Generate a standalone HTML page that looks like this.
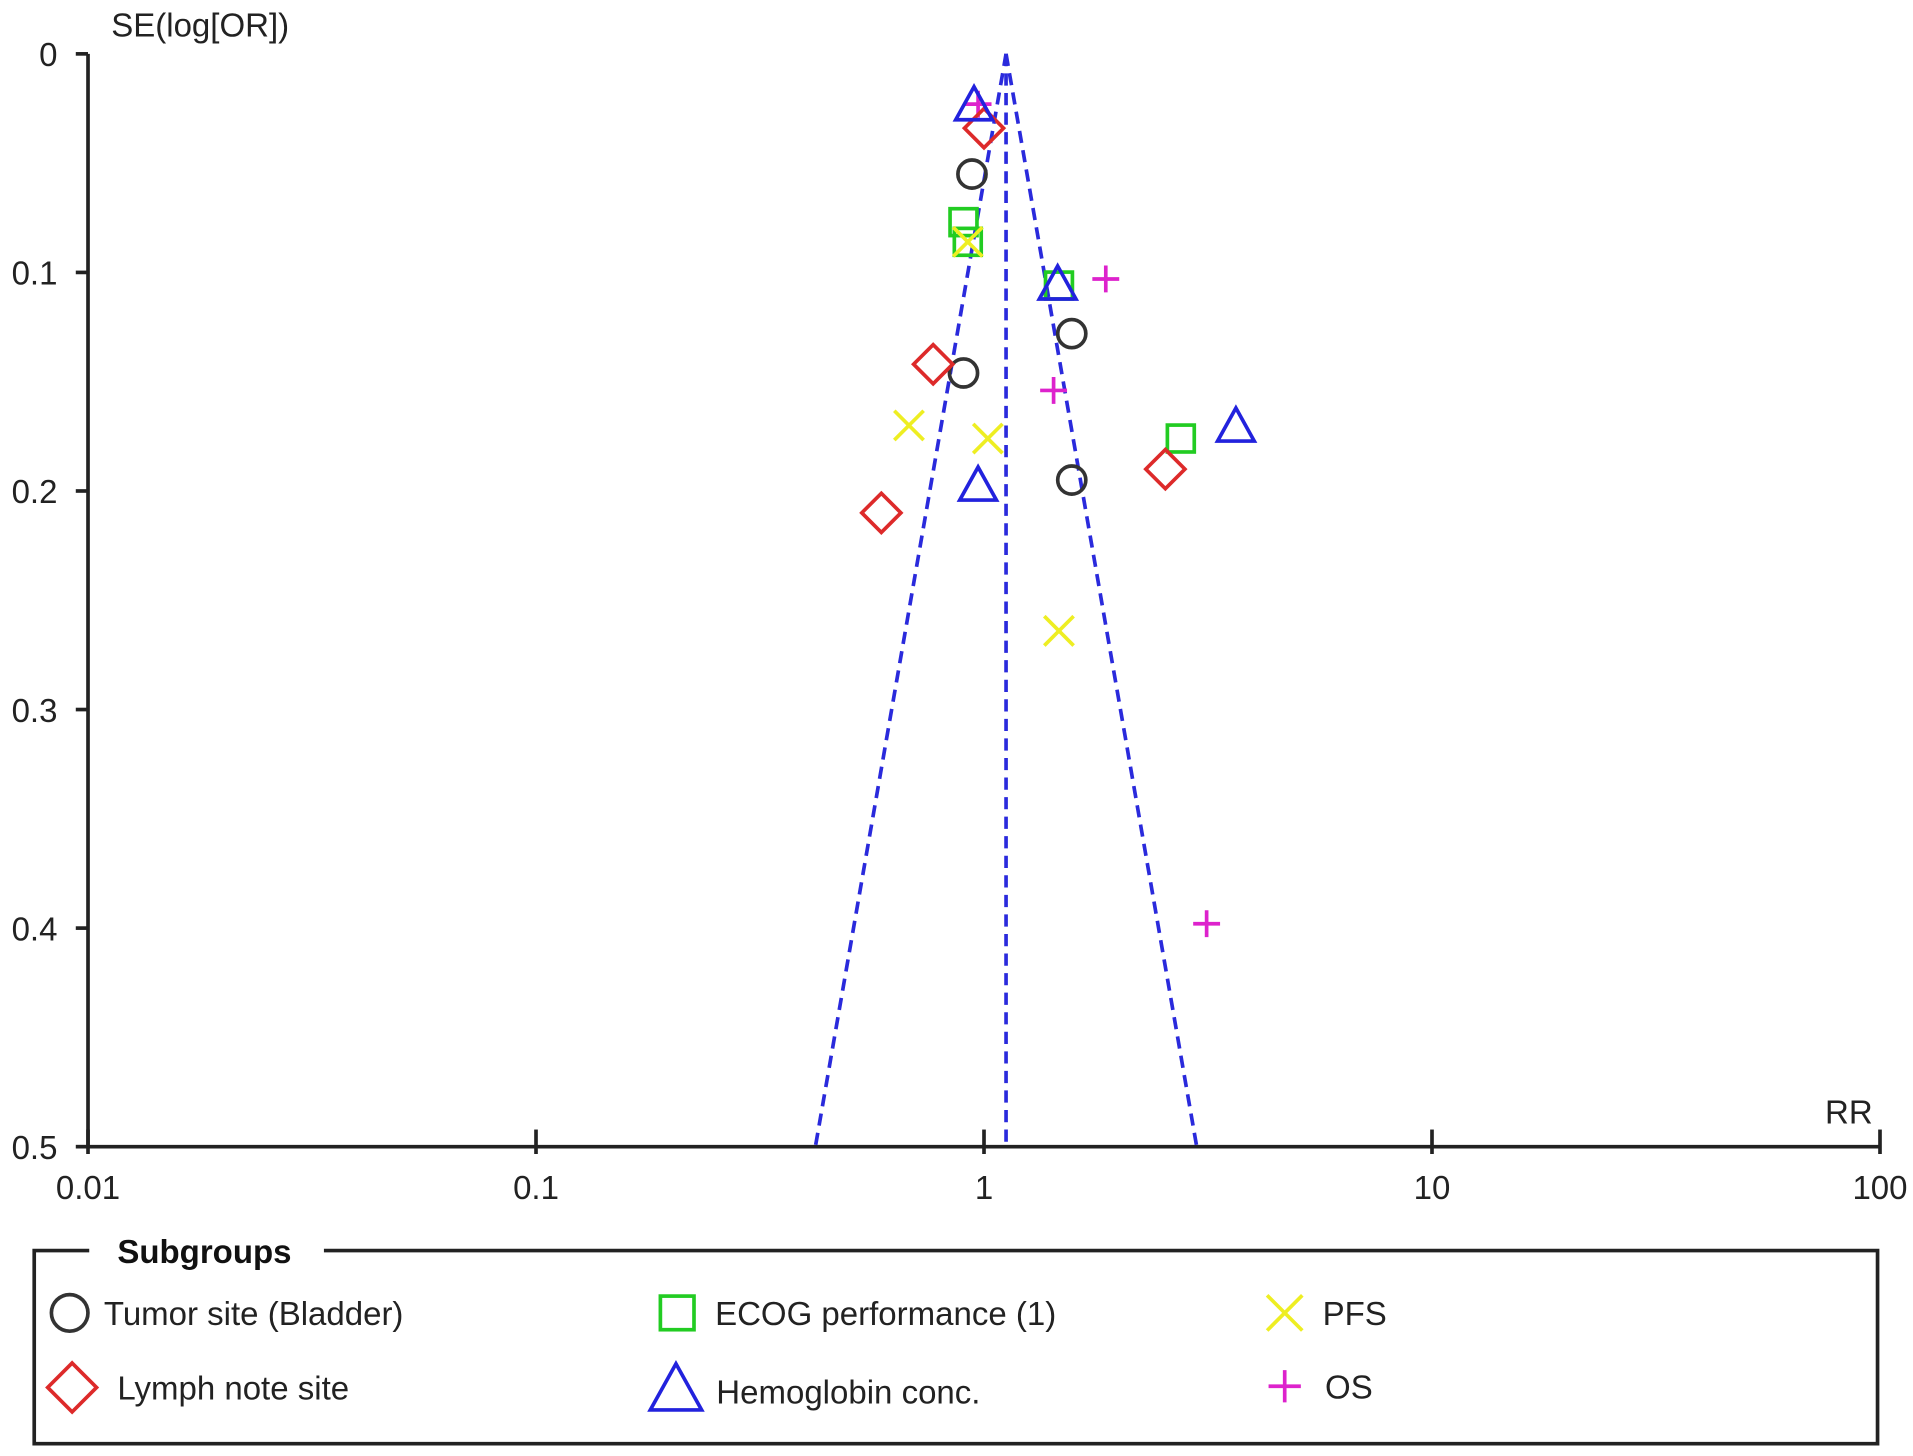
<!DOCTYPE html>
<html><head><meta charset="utf-8"><style>
html,body{margin:0;padding:0;background:#fff;}
svg{display:block;font-family:"Liberation Sans",sans-serif;}
</style></head><body>
<svg id="chart" width="1913" height="1456" viewBox="0 0 1565 1191" xmlns="http://www.w3.org/2000/svg">
<g id="axes"></g>
<g id="funnel"></g>
<g id="marks"></g>
<g id="legend"></g>
</svg>
<script>
const xTicks = [0.01, 0.1, 1, 10, 100];
const xTickLabels = ["0.01", "0.1", "1", "10", "100"];
const yTicks = [0, 0.1, 0.2, 0.3, 0.4, 0.5];
const yTickLabels = ["0", "0.1", "0.2", "0.3", "0.4", "0.5"];
const pooledRR = 1.12;
const tumorRR = [0.94, 1.57, 0.90, 1.57];
const tumorSE = [0.055, 0.128, 0.146, 0.195];
const ecogRR = [0.90, 0.92, 1.47, 2.75];
const ecogSE = [0.077, 0.086, 0.106, 0.176];
const hemoRR = [0.95, 1.46, 3.65, 0.97];
const hemoSE = [0.024, 0.106, 0.171, 0.198];
const lymphRR = [1.0, 0.77, 2.54, 0.59];
const lymphSE = [0.034, 0.142, 0.190, 0.210];
const pfsRR = [0.68, 1.02, 0.92, 1.47];
const pfsSE = [0.170, 0.176, 0.086, 0.264];
const osRR = [0.97, 1.87, 1.43, 3.14];
const osSE = [0.023, 0.103, 0.154, 0.398];

const NS = "http://www.w3.org/2000/svg";
const X0 = 72, X1 = 1538, Y0 = 44, Y1 = 938;
const FS = 27;
function xs(v){ return X0 + (Math.log10(v) + 2) / 4 * (X1 - X0); }
function ys(v){ return Y0 + v / 0.5 * (Y1 - Y0); }
function mk(tag, attrs, parent){
  const e = document.createElementNS(NS, tag);
  for (const k in attrs) e.setAttribute(k, attrs[k]);
  parent.appendChild(e);
  return e;
}
const axes = document.getElementById('axes');
let a = mk('line', {x1:X0, y1:Y0, x2:X0, y2:Y1, stroke:'#222', 'stroke-width':3}, axes);


a = mk('line', {x1:X0, y1:Y1, x2:X1, y2:Y1, stroke:'#222', 'stroke-width':3}, axes);


yTicks.forEach((t, i) => {
  const y = ys(t);
  const l = mk('line', {x1:X0-10, y1:y, x2:X0, y2:y, stroke:'#222', 'stroke-width':3}, axes);
  
  
  const tx = mk('text', {x:47, y:y+10, 'text-anchor':'end', 'font-size':FS, fill:'#222'}, axes);
  tx.textContent = yTickLabels[i];
  
  
});
xTicks.forEach((t, i) => {
  const x = xs(t);
  const l = mk('line', {x1:x, y1:Y1-14, x2:x, y2:Y1+6, stroke:'#222', 'stroke-width':3}, axes);
  
  
  const tx = mk('text', {x:x, y:Y1+43, 'text-anchor':'middle', 'font-size':FS, fill:'#222'}, axes);
  tx.textContent = xTickLabels[i];
  
  
});
let t = mk('text', {x:91, y:30, 'font-size':FS, fill:'#222'}, axes);
t.textContent = 'SE(log[OR])';


t = mk('text', {x:1532, y:919, 'text-anchor':'end', 'font-size':FS, fill:'#222'}, axes);
t.textContent = 'RR';



const fg = document.getElementById('funnel');
const dash = {stroke:'#2a2adc', 'stroke-width':3, 'stroke-dasharray':'10,6', fill:'none'};
const lo = pooledRR * Math.exp(-1.96 * 0.5), hi = pooledRR * Math.exp(1.96 * 0.5);
let f = mk('line', Object.assign({x1:xs(pooledRR), y1:ys(0), x2:xs(pooledRR), y2:ys(0.5)}, dash), fg);


f = mk('line', Object.assign({x1:xs(pooledRR), y1:ys(0), x2:xs(lo), y2:ys(0.5)}, dash), fg);


f = mk('line', Object.assign({x1:xs(pooledRR), y1:ys(0), x2:xs(hi), y2:ys(0.5)}, dash), fg);



function shape(kind, cx, cy, parent, s){
  s = s || 1;
  const sw = 3;
  let e;
  if (kind === 'circle') e = mk('circle', {cx:cx, cy:cy, r:11.5*s, fill:'none', stroke:'#333', 'stroke-width':sw}, parent);
  else if (kind === 'square') e = mk('rect', {x:cx-11*s, y:cy-11*s, width:22*s, height:22*s, fill:'none', stroke:'#22cc22', 'stroke-width':sw}, parent);
  else if (kind === 'triangle') e = mk('path', {d:`M${cx},${cy-16*s} L${cx+15*s},${cy+11*s} L${cx-15*s},${cy+11*s} Z`, fill:'none', stroke:'#2222dd', 'stroke-width':sw}, parent);
  else if (kind === 'diamond') e = mk('path', {d:`M${cx},${cy-16*s} L${cx+16*s},${cy} L${cx},${cy+16*s} L${cx-16*s},${cy} Z`, fill:'none', stroke:'#dd2a2a', 'stroke-width':sw}, parent);
  else if (kind === 'x') e = mk('path', {d:`M${cx-12*s},${cy-12*s} L${cx+12*s},${cy+12*s} M${cx+12*s},${cy-12*s} L${cx-12*s},${cy+12*s}`, fill:'none', stroke:'#eeee22', 'stroke-width':sw}, parent);
  else e = mk('path', {d:`M${cx-11*s},${cy} L${cx+11*s},${cy} M${cx},${cy-11*s} L${cx},${cy+11*s}`, fill:'none', stroke:'#dd22cc', 'stroke-width':sw}, parent);
  return e;
}
const marks = document.getElementById('marks');
const series = [
  ['circle', tumorRR, tumorSE, 'tumor-site-point'],
  ['square', ecogRR, ecogSE, 'ecog-point'],
  ['x', pfsRR, pfsSE, 'pfs-point'],
  ['plus', osRR, osSE, 'os-point'],
  ['diamond', lymphRR, lymphSE, 'lymph-node-point'],
  ['triangle', hemoRR, hemoSE, 'hemoglobin-point']
];
series.forEach(s => {
  s[1].forEach((v, i) => {
    const e = shape(s[0], xs(v), ys(s[2][i]), marks);
    
    
  });
});

const lg = document.getElementById('legend');
let b = mk('path', {d:'M73,1023 L28,1023 L28,1181 L1536,1181 L1536,1023 L265,1023', fill:'none', stroke:'#222', 'stroke-width':3}, lg);


t = mk('text', {x:96, y:1033, 'font-size':FS, 'font-weight':'bold', fill:'#111'}, lg);
t.textContent = 'Subgroups';


const legItems = [
  ['circle', 57, 1074, 85, 'Tumor site (Bladder)', 1.3],
  ['square', 554, 1074, 585, 'ECOG performance (1)', 1.25],
  ['x', 1051, 1074, 1082, 'PFS', 1.2],
  ['diamond', 59, 1135, 96, 'Lymph note site', 1.25],
  ['triangle', 553, 1138, 586, 'Hemoglobin conc.', 1.4],
  ['plus', 1051, 1134, 1084, 'OS', 1.2]
];
legItems.forEach(it => {
  const g = mk('g', {}, lg);
  
  
  shape(it[0], it[1], it[2], g, it[5]);
  const tx = mk('text', {x:it[3], y:it[2]+10, 'font-size':FS, fill:'#222'}, g);
  tx.textContent = it[4];
});
</script>
</body></html>
